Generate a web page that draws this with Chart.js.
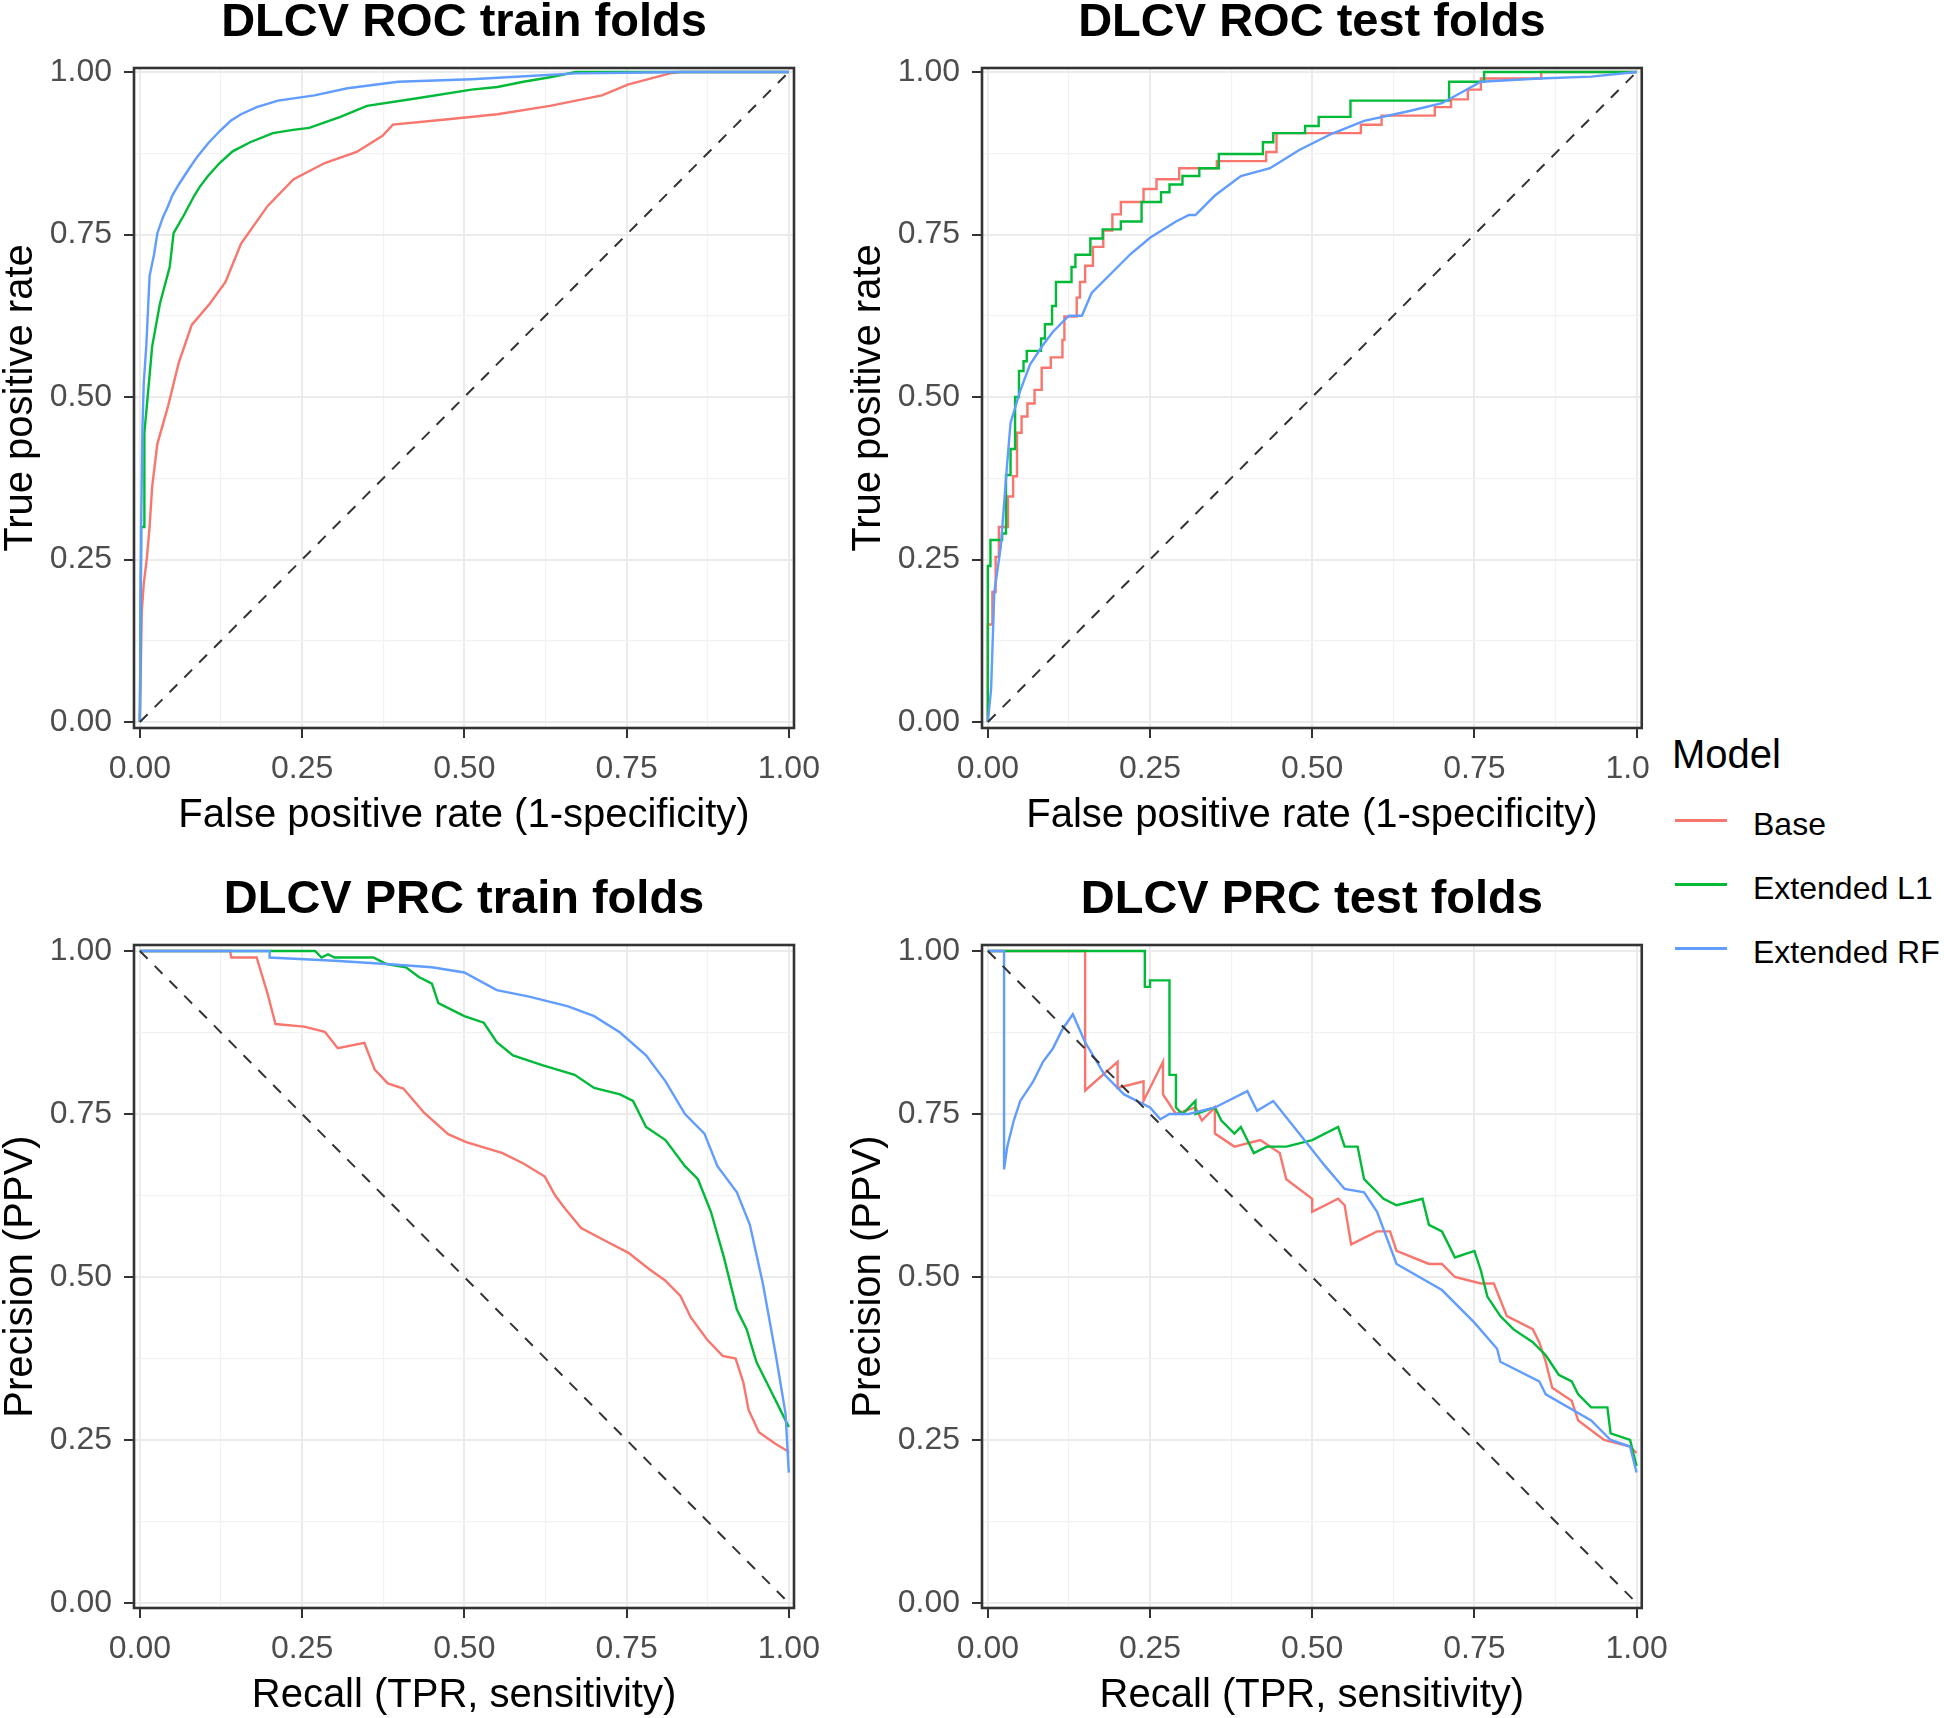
<!DOCTYPE html>
<html>
<head>
<meta charset="utf-8">
<script src="https://cdn.jsdelivr.net/npm/chart.js@4.4.1/dist/chart.umd.min.js"></script>
<style>
  body { margin: 0; background: #fff; }
  #page { position: relative; width: 1944px; height: 1718px; background: #fff; overflow: hidden;
          font-family: 'Liberation Sans', Arial, sans-serif; }
  canvas { position: absolute; }
  #legend { position: absolute; left: 1650px; top: 720px; width: 294px; height: 260px; background: #fff; z-index: 2; }
  #legend .ttl { position: absolute; left: 22px; top: 14px; font-size: 40px; line-height: 40px; color: #000; }
  #legend .key { position: absolute; left: 25px; width: 52px; height: 3px; }
  #legend .lab { position: absolute; left: 103px; font-size: 32px; line-height: 32px; color: #000; white-space: nowrap; }
</style>
</head>
<body>
<div id="page">
  <canvas id="rocTrain" width="880" height="860" style="left:0;top:0"></canvas>
  <canvas id="rocTest" width="832" height="860" style="left:848px;top:0"></canvas>
  <canvas id="prcTrain" width="880" height="841" style="left:0;top:877px"></canvas>
  <canvas id="prcTest" width="832" height="841" style="left:848px;top:877px"></canvas>
  <div id="legend"></div>
</div>
<script>
const models = ["Base", "Extended L1", "Extended RF"];
const tickValues = [0, 0.125, 0.25, 0.375, 0.5, 0.625, 0.75, 0.875, 1];
const tickLabels = ["0.00", "", "0.25", "", "0.50", "", "0.75", "", "1.00"];

// ROC train folds, [FPR, TPR]
const rocTrainBase = [[0,0],[0.003,0.17],[0.006,0.212],[0.011,0.254],[0.015,0.3],[0.019,0.362],[0.027,0.428],
  [0.0435,0.486],[0.06,0.553],[0.08,0.611],[0.108,0.644],[0.132,0.677],[0.156,0.736],[0.197,0.794],[0.237,0.835],
  [0.285,0.86],[0.334,0.877],[0.374,0.902],[0.39,0.919],[0.471,0.927],[0.551,0.935],[0.632,0.948],[0.672,0.956],
  [0.712,0.964],[0.753,0.981],[0.817,0.998],[0.833,1],[1,1]];
const rocTrainL1 = [[0,0],[0.002,0.27],[0.002,0.3],[0.007,0.3],[0.007,0.445],[0.012,0.5],[0.019,0.578],[0.031,0.644],
  [0.046,0.7],[0.052,0.752],[0.068,0.78],[0.084,0.81],[0.092,0.823],[0.105,0.84],[0.123,0.86],[0.143,0.878],
  [0.17,0.892],[0.205,0.906],[0.236,0.911],[0.261,0.914],[0.309,0.931],[0.35,0.948],[0.43,0.96],[0.511,0.973],
  [0.551,0.977],[0.591,0.985],[0.632,0.992],[0.672,1],[1,1]];
const rocTrainRF = [[0,0],[0.002,0.3],[0.004,0.45],[0.006,0.52],[0.01,0.58],[0.015,0.686],[0.022,0.72],[0.027,0.752],
  [0.035,0.775],[0.0435,0.794],[0.05,0.81],[0.06,0.827],[0.075,0.85],[0.088,0.869],[0.105,0.89],[0.124,0.91],
  [0.14,0.925],[0.156,0.935],[0.18,0.946],[0.213,0.956],[0.269,0.964],[0.32,0.975],[0.398,0.985],[0.511,0.989],
  [0.6,0.994],[0.672,0.998],[0.75,0.999],[0.833,1],[1,1]];

// ROC test folds, [FPR, TPR]; Base and L1 are step curves (end of each flat run)
const rocTestBase = [[0,0],[0.007,0.15],[0.012,0.2],[0.017,0.254],[0.031,0.3],[0.039,0.347],[0.045,0.378],
  [0.052,0.445],[0.061,0.47],[0.072,0.49],[0.083,0.511],[0.097,0.545],[0.115,0.561],[0.118,0.588],[0.137,0.624],
  [0.142,0.653],[0.15,0.677],[0.162,0.702],[0.178,0.731],[0.192,0.756],[0.205,0.781],[0.24,0.8],[0.26,0.82],
  [0.295,0.835],[0.353,0.852],[0.429,0.863],[0.445,0.877],[0.575,0.906],[0.607,0.919],[0.689,0.933],[0.714,0.946],
  [0.74,0.958],[0.76,0.973],[0.853,0.99],[1,1]];
const rocTestL1 = [[0,0],[0.004,0.24],[0.022,0.28],[0.028,0.29],[0.035,0.38],[0.042,0.42],[0.048,0.5],[0.055,0.54],
  [0.06,0.555],[0.082,0.571],[0.088,0.59],[0.099,0.612],[0.105,0.64],[0.129,0.677],[0.135,0.7],[0.158,0.719],
  [0.177,0.744],[0.205,0.758],[0.237,0.77],[0.267,0.8],[0.28,0.815],[0.3,0.827],[0.326,0.84],[0.356,0.852],
  [0.424,0.874],[0.44,0.892],[0.489,0.906],[0.51,0.917],[0.559,0.931],[0.711,0.956],[0.765,0.985],[1,1]];
const rocTestRF = [[0,0],[0.005,0.05],[0.01,0.2],[0.02,0.27],[0.03,0.4],[0.035,0.46],[0.05,0.51],[0.065,0.55],
  [0.085,0.58],[0.1,0.6],[0.125,0.625],[0.145,0.625],[0.16,0.66],[0.19,0.69],[0.22,0.72],[0.25,0.745],[0.29,0.77],
  [0.31,0.78],[0.32,0.78],[0.35,0.81],[0.39,0.84],[0.435,0.852],[0.48,0.88],[0.53,0.905],[0.58,0.925],[0.65,0.94],
  [0.7,0.952],[0.76,0.985],[0.85,0.99],[0.93,0.993],[1,1]];

// PRC train folds, [recall, precision]
const prcTrainBase = [[0,1],[0.139,1],[0.141,0.99],[0.18,0.99],[0.197,0.934],[0.209,0.888],[0.253,0.884],[0.285,0.876],
  [0.305,0.851],[0.346,0.859],[0.362,0.818],[0.382,0.797],[0.406,0.789],[0.438,0.752],[0.475,0.719],[0.503,0.707],
  [0.559,0.69],[0.591,0.674],[0.624,0.654],[0.64,0.625],[0.656,0.604],[0.68,0.575],[0.72,0.554],[0.753,0.537],
  [0.785,0.512],[0.809,0.495],[0.833,0.471],[0.849,0.438],[0.874,0.404],[0.898,0.379],[0.918,0.375],[0.93,0.338],
  [0.938,0.296],[0.954,0.262],[0.978,0.245],[0.998,0.233],[1,0.23]];
const prcTrainL1 = [[0,1],[0.2,1],[0.27,1],[0.28,0.99],[0.29,0.995],[0.3,0.99],[0.32,0.99],[0.36,0.99],[0.38,0.98],
  [0.41,0.975],[0.43,0.96],[0.45,0.95],[0.46,0.92],[0.5,0.9],[0.53,0.89],[0.55,0.86],[0.575,0.84],[0.62,0.825],
  [0.67,0.81],[0.7,0.79],[0.74,0.78],[0.76,0.77],[0.78,0.73],[0.81,0.71],[0.84,0.67],[0.86,0.65],[0.88,0.6],
  [0.9,0.53],[0.92,0.45],[0.935,0.42],[0.95,0.37],[0.97,0.33],[0.99,0.29],[1,0.27]];
const prcTrainRF = [[0,1],[0.2,1],[0.2,0.99],[0.3,0.985],[0.38,0.98],[0.45,0.975],[0.5,0.967],[0.55,0.94],[0.6,0.93],
  [0.66,0.915],[0.7,0.9],[0.74,0.875],[0.78,0.84],[0.81,0.8],[0.84,0.75],[0.87,0.72],[0.89,0.67],[0.92,0.63],
  [0.94,0.58],[0.96,0.49],[0.98,0.38],[0.995,0.29],[1,0.2]];

// PRC test folds, [recall, precision]
const prcTestBase = [[0,1],[0.15,1],[0.15,0.786],[0.2,0.83],[0.2,0.79],[0.24,0.8],[0.24,0.77],[0.27,0.83],[0.27,0.78],
  [0.29,0.75],[0.32,0.76],[0.33,0.74],[0.35,0.76],[0.35,0.72],[0.38,0.7],[0.42,0.71],[0.45,0.69],[0.46,0.65],
  [0.5,0.62],[0.5,0.6],[0.54,0.62],[0.55,0.61],[0.56,0.55],[0.6,0.57],[0.62,0.57],[0.63,0.54],[0.68,0.52],[0.7,0.52],
  [0.72,0.5],[0.76,0.49],[0.78,0.49],[0.8,0.44],[0.84,0.42],[0.85,0.4],[0.86,0.37],[0.87,0.33],[0.9,0.31],
  [0.91,0.28],[0.95,0.25],[0.99,0.24],[1,0.23]];
const prcTestL1 = [[0,1],[0.242,1],[0.242,0.945],[0.25,0.945],[0.25,0.955],[0.28,0.955],[0.28,0.81],[0.29,0.81],
  [0.29,0.76],[0.3,0.75],[0.32,0.77],[0.32,0.75],[0.35,0.76],[0.36,0.74],[0.38,0.72],[0.39,0.73],[0.4,0.71],
  [0.41,0.69],[0.43,0.7],[0.46,0.7],[0.5,0.71],[0.54,0.73],[0.55,0.7],[0.57,0.7],[0.58,0.65],[0.6,0.63],[0.61,0.62],
  [0.63,0.61],[0.67,0.62],[0.68,0.58],[0.7,0.57],[0.71,0.55],[0.72,0.53],[0.75,0.54],[0.76,0.51],[0.77,0.47],
  [0.79,0.44],[0.81,0.42],[0.84,0.4],[0.86,0.38],[0.88,0.35],[0.9,0.34],[0.91,0.32],[0.93,0.3],[0.955,0.3],
  [0.96,0.26],[0.99,0.25],[1,0.21]];
const prcTestRF = [[0,1],[0.025,1],[0.025,0.665],[0.03,0.7],[0.04,0.74],[0.05,0.77],[0.07,0.8],[0.085,0.83],[0.1,0.85],
  [0.115,0.88],[0.131,0.903],[0.15,0.86],[0.18,0.81],[0.21,0.78],[0.25,0.76],[0.266,0.742],[0.28,0.75],[0.31,0.75],
  [0.35,0.76],[0.4,0.785],[0.415,0.755],[0.44,0.77],[0.48,0.72],[0.52,0.67],[0.55,0.635],[0.58,0.63],[0.6,0.6],
  [0.63,0.52],[0.7,0.48],[0.75,0.43],[0.785,0.39],[0.79,0.37],[0.85,0.34],[0.86,0.32],[0.93,0.28],[0.96,0.25],
  [0.99,0.24],[1,0.2]];

const rocDiag = [[0,0],[1,1]];
const prcDiag = [[0,1],[1,0]];

const colours = ["#F8766D", "#00BA38", "#619CFF"];
const FONT = "'Liberation Sans', Arial, sans-serif";

// draws the dark frame round the panel, like theme_bw
const panelBorder = {
  id: "panelBorder",
  afterDatasetsDraw(chart) {
    const { ctx, chartArea: a } = chart;
    ctx.save();
    ctx.strokeStyle = "#333333";
    ctx.lineWidth = 2.6;
    ctx.strokeRect(a.left, a.top, a.right - a.left, a.bottom - a.top);
    ctx.restore();
  }
};

function axis(pos, title, min, max, size) {
  return {
    type: "linear",
    position: pos,
    min: min,
    max: max,
    afterBuildTicks: (s) => { s.ticks = tickValues.map(v => ({ value: v })); },
    afterFit: (s) => { if (pos === "left") s.width = size; else s.height = size; },
    ticks: {
      autoSkip: false,
      maxRotation: 0,
      padding: pos === "left" ? 12 : 12,
      color: "#4D4D4D",
      font: { family: FONT, size: 32 },
      callback: (v, i) => tickLabels[i]
    },
    grid: {
      color: (c) => c.index % 2 === 0 ? "#EBEBEB" : "#F2F2F2",
      lineWidth: (c) => c.index % 2 === 0 ? 2 : 1.2,
      tickColor: (c) => c.index % 2 === 0 ? "#333333" : "rgba(0,0,0,0)",
      tickWidth: 2,
      tickLength: 10
    },
    border: { display: false },
    title: {
      display: true,
      text: title,
      color: "#000",
      font: { family: FONT, size: 40, lineHeight: 1 },
      padding: pos === "left" ? { top: 1, bottom: 0 } : { top: 0, bottom: 2.5 }
    }
  };
}

function makeChart(id, title, xTitle, yTitle, series, diag, stepped, area, yMin, yMax) {
  const cv = document.getElementById(id);
  const xAxisH = 110;
  const sets = series.map((pts, i) => ({
    label: models[i],
    data: pts.map(p => ({ x: p[0], y: p[1] })),
    borderColor: colours[i],
    borderWidth: 2.4,
    pointRadius: 0,
    tension: 0,
    fill: false,
    stepped: stepped[i] ? "after" : false,
    order: 3 - i
  }));
  sets.push({
    label: "diagonal",
    data: diag.map(p => ({ x: p[0], y: p[1] })),
    borderColor: "#333333",
    borderWidth: 2,
    borderDash: [11, 10],
    pointRadius: 0,
    fill: false,
    order: 0
  });
  return new Chart(cv, {
    type: "line",
    data: { datasets: sets },
    plugins: [panelBorder],
    options: {
      responsive: false,
      animation: false,
      layout: { padding: { left: 0, top: 0, right: cv.width - area.right, bottom: cv.height - area.bottom - xAxisH } },
      plugins: {
        legend: { display: false },
        tooltip: { enabled: false },
        title: {
          display: true,
          text: title,
          fullSize: false,
          color: "#000",
          font: { family: FONT, size: 47, weight: "bold", lineHeight: 1 },
          padding: { top: 0, bottom: area.top - 47 }
        }
      },
      scales: {
        x: axis("bottom", xTitle, -0.009, 1.008, xAxisH),
        y: axis("left", yTitle, yMin, yMax, area.left)
      }
    }
  });
}

const rocX = "False positive rate (1-specificity)";
const prcX = "Recall (TPR, sensitivity)";

makeChart("rocTrain", "DLCV ROC train folds", rocX, "True positive rate",
  [rocTrainBase, rocTrainL1, rocTrainRF], rocDiag, [false, false, false],
  { left: 134, top: 68, right: 794, bottom: 728 }, -0.0092, 1.0062);
makeChart("rocTest", "DLCV ROC test folds", rocX, "True positive rate",
  [rocTestBase, rocTestL1, rocTestRF], rocDiag, [true, true, false],
  { left: 134, top: 68, right: 795, bottom: 728 }, -0.0092, 1.0062);
makeChart("prcTrain", "DLCV PRC train folds", prcX, "Precision (PPV)",
  [prcTrainBase, prcTrainL1, prcTrainRF], prcDiag, [false, false, false],
  { left: 134, top: 68, right: 794, bottom: 731 }, -0.0077, 1.0092);
makeChart("prcTest", "DLCV PRC test folds", prcX, "Precision (PPV)",
  [prcTestBase, prcTestL1, prcTestRF], prcDiag, [false, false, false],
  { left: 134, top: 68, right: 795, bottom: 731 }, -0.0077, 1.0092);

// legend
const leg = document.getElementById("legend");
let html = '<div class="ttl">Model</div>';
models.forEach((m, i) => {
  html += '<div class="key" style="top:' + (99 + i * 64) + 'px;background:' + colours[i] + '"></div>';
  html += '<div class="lab" style="top:' + (88 + i * 64) + 'px">' + m + '</div>';
});
leg.innerHTML = html;
</script>
</body>
</html>
